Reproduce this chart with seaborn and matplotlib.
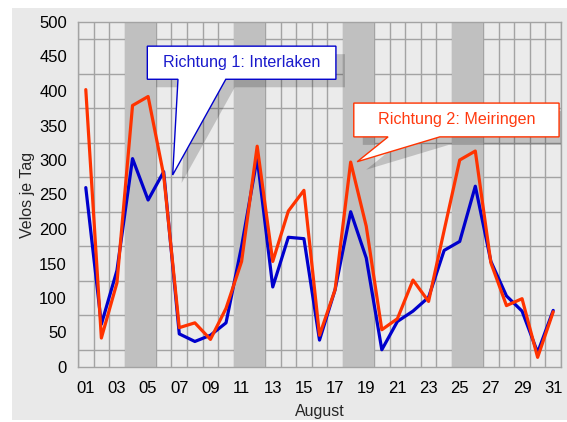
import numpy as np
import pandas as pd
import seaborn as sns
import matplotlib.pyplot as plt
from matplotlib.patches import Polygon, Rectangle

# Velos je Tag, August
days = list(range(1, 32))
interlaken = [260, 62, 140, 302, 242, 283, 48, 37, 46, 64,
              175, 303, 116, 188, 186, 39, 112, 225, 158, 25,
              66, 81, 101, 169, 182, 262, 153, 103, 81, 21, 82]
meiringen = [402, 42, 122, 379, 392, 278, 57, 64, 40, 85,
             153, 320, 153, 226, 256, 46, 112, 297, 204, 54,
             70, 126, 95, 198, 300, 313, 151, 89, 99, 14, 80]
weekends = [4, 5, 11, 12, 18, 19, 25, 26]
series_names = ["Richtung 1: Interlaken", "Richtung 2: Meiringen"]
series_colors = ["#0000cc", "#ff3300"]
text_colors = ["#1a1acc", "#ff3a10"]

df = pd.DataFrame({
    "Tag": days * 2,
    "Velos": interlaken + meiringen,
    "Richtung": [series_names[0]] * 31 + [series_names[1]] * 31,
})

sns.set_theme(style="white")
plt.rcParams["font.family"] = ["Liberation Sans", "DejaVu Sans"]

fig = plt.figure(figsize=(5.67, 4.22), dpi=100)
fig.patch.set_facecolor("white")
fig.patches.append(Rectangle((12 / 567, 2 / 422), 1 - 12 / 567, 412 / 422,
                             transform=fig.transFigure, facecolor="#e9e9e9",
                             edgecolor="none", zorder=-10))
ax = fig.add_axes([78 / 567, 1 - 367 / 422, 483 / 567, 345 / 422])
ax.set_facecolor("#ebebeb")

for d in weekends:
    ax.axvspan(d - 0.5, d + 0.5, color="#c0c0c0", lw=0, zorder=1)

sns.lineplot(data=df, x="Tag", y="Velos", hue="Richtung", palette=series_colors,
             linewidth=2.3, legend=False, ax=ax, zorder=3)

ax.set_xlim(0.5, 31.5)
ax.set_ylim(0, 500)
ax.set_xticks(days[::2])
ax.set_xticklabels([f"{d:02d}" for d in days[::2]])
ax.set_xticks(np.arange(0.5, 32, 1), minor=True)
ax.set_yticks(range(0, 501, 50))
ax.set_yticks(range(0, 501, 25), minor=True)
ax.grid(False)
ax.set_axisbelow(True)
ax.grid(True, which="minor", color="#a3a3a3", lw=1.0)
ax.tick_params(which="both", length=0, labelsize=12, colors="black")
ax.tick_params(axis="x", pad=10)
ax.tick_params(axis="y", pad=8)
for s in ax.spines.values():
    s.set_color("#a3a3a3")
    s.set_linewidth(1.0)
ax.set_xlabel("August", fontsize=11.5, labelpad=6)
ax.set_ylabel("Velos je Tag", fontsize=11.5, labelpad=3)

# callouts (axes fraction)
callouts = [
    dict(box=(0.1435, 0.834, 0.534, 0.930), base=(0.207, 0.306), tip=(0.196, 0.5565)),
    dict(box=(0.571, 0.667, 0.996, 0.765), base=(0.642, 0.749), tip=(0.578, 0.595)),
]
dx, dy = 9 / 483, -8 / 345
for c, name, ec, tc in zip(callouts, series_names, series_colors, text_colors):
    x0, y0, x1, y1 = c["box"]
    b0, b1 = c["base"]
    tx, ty = c["tip"]
    pts = [(x0, y1), (x1, y1), (x1, y0), (b1, y0), (tx, ty), (b0, y0), (x0, y0)]
    shadow = Polygon([(x + dx, y + dy) for x, y in pts], closed=True,
                     transform=ax.transAxes, facecolor="black", alpha=0.18,
                     edgecolor="none", zorder=4)
    ax.add_patch(shadow)
    ax.add_patch(Polygon(pts, closed=True, transform=ax.transAxes,
                         facecolor="white", edgecolor=ec, lw=1.0, zorder=5))
    ax.text((x0 + x1) / 2, (y0 + y1) / 2, name, transform=ax.transAxes,
            ha="center", va="center", color=tc, fontsize=11.6, zorder=6)

fig.savefig("out.png", dpi=100)
plt.close(fig)
